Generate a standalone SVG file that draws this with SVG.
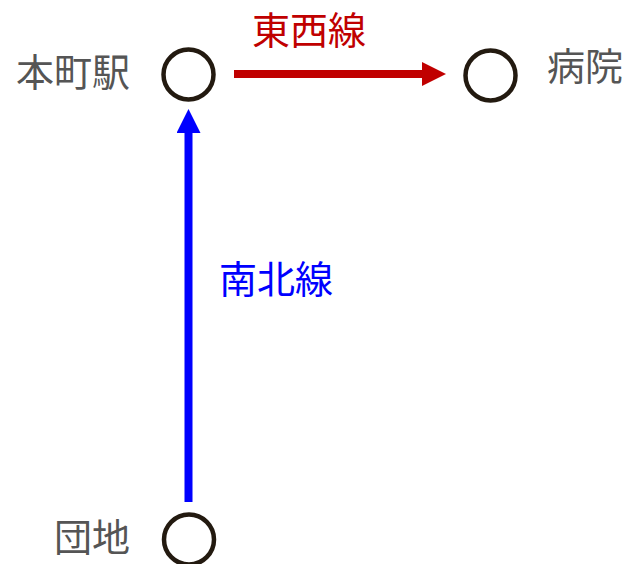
<svg xmlns="http://www.w3.org/2000/svg" width="626" height="564" viewBox="0 0 626 564">
<style>
.st{fill:none;stroke:#231a10;stroke-width:4.5}
.lbl{font-family:"Noto Sans CJK JP","Noto Sans",sans-serif;font-size:38px;fill:#555555}
.line{font-family:"Noto Sans CJK JP","Noto Sans",sans-serif;font-size:38px}
</style>
<defs>
<marker id="ar" viewBox="0 0 24 24" refX="0" refY="12" markerWidth="24" markerHeight="24" markerUnits="userSpaceOnUse" orient="auto"><path d="M0,0 L24,12 L0,24 Z" fill="#c00000"/></marker>
<marker id="ab" viewBox="0 0 24 24" refX="0" refY="12" markerWidth="24" markerHeight="24" markerUnits="userSpaceOnUse" orient="auto"><path d="M0,0 L24,12 L0,24 Z" fill="#0000ff"/></marker>
</defs>
<g id="connectors">
<g id="touzai">
<line x1="234" y1="74" x2="422" y2="74" stroke="#c00000" stroke-width="8" marker-end="url(#ar)"/>
<text class="line" x="309" y="44" text-anchor="middle" fill="#c00000">東西線</text>
</g>
<g id="nanboku">
<line x1="188.5" y1="502" x2="188.5" y2="133" stroke="#0000ff" stroke-width="8" marker-end="url(#ab)"/>
<text class="line" x="276" y="293" text-anchor="middle" fill="#0000ff">南北線</text>
</g>
</g>
<g id="honmachi">
<circle class="st" cx="188.5" cy="74.5" r="25"/>
<text class="lbl" x="130" y="86" text-anchor="end">本町駅</text>
</g>
<g id="byouin">
<circle class="st" cx="490.5" cy="75.5" r="25"/>
<text class="lbl" x="547" y="80">病院</text>
</g>
<g id="danchi">
<circle class="st" cx="189" cy="539.5" r="25"/>
<text class="lbl" x="130" y="551" text-anchor="end">団地</text>
</g>
</svg>
